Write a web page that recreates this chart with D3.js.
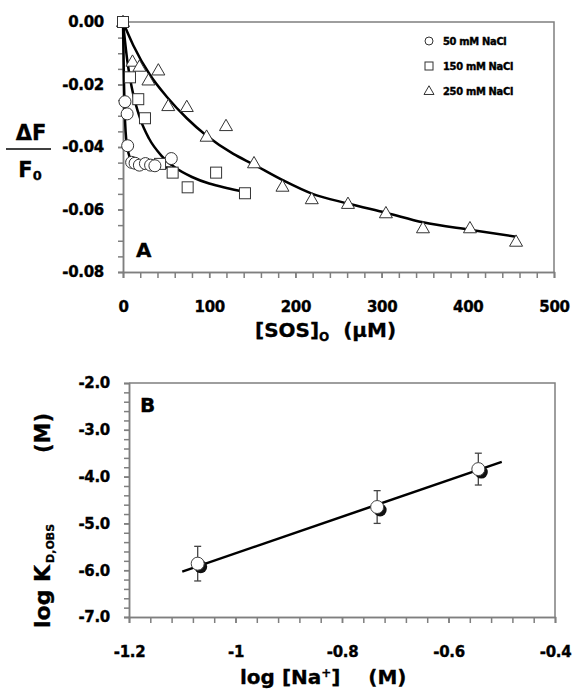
<!DOCTYPE html>
<html>
<head>
<meta charset="utf-8">
<script src="https://cdn.jsdelivr.net/npm/d3@7"></script>
<style>
  body { margin: 0; background: #fff; }
  svg { font-family: 'DejaVu Sans', Verdana, sans-serif; font-weight: bold; }
  .axis path, .axis line { stroke: #7f7f7f; stroke-width: 1.5; fill: none; }
  .axis text { fill: #000; font-size: 15px; font-family: 'DejaVu Sans', Verdana, sans-serif; font-weight: bold; stroke: #000; stroke-width: 0.35; letter-spacing: -0.3px; }
  .title { stroke: #000; stroke-width: 0.3; }
  .frame { stroke: #7f7f7f; stroke-width: 1.5; fill: none; }
  .fit { fill: none; stroke: #000; stroke-width: 2.5; }
  .sym { fill: #fff; stroke: #333; stroke-width: 1; }
  .legend text { font-size: 11px; font-stretch: condensed; stroke: #000; stroke-width: 0.4; letter-spacing: -0.3px; }
</style>
</head>
<body>
<div id="chart"></div>
<script>
// PANEL A DATA : [SOS]o (uM) vs dF/F0
const sos50 = [2.3, 4.8, 5.4, 10, 14, 19, 26, 32, 37, 56];
const dF50 = [-0.0255, -0.0294, -0.0396, -0.0449, -0.0452, -0.0458, -0.0453, -0.0458, -0.0460, -0.0437];
const sos150 = [0, 8.1, 17.7, 25.5, 43, 57.6, 75, 108, 141.5];
const dF150 = [0, -0.0177, -0.0247, -0.0308, -0.0454, -0.0482, -0.0529, -0.0482, -0.0548];
const sos250 = [0, 11, 19, 29.5, 41, 52.5, 74, 97, 119.5, 152, 185, 219, 261, 305, 348, 402.5, 456];
const dF250 = [0, -0.0127, -0.0143, -0.0187, -0.0155, -0.0269, -0.0272, -0.0367, -0.0333, -0.0452, -0.0527, -0.0567, -0.0582, -0.0612, -0.066, -0.066, -0.0703];

// fitted curves
const fit50x = [0, 1, 2, 3, 5, 8, 12, 20, 35, 56];
const fit50y = [0, -0.018, -0.029, -0.035, -0.040, -0.0435, -0.0450, -0.0458, -0.0463, -0.0466];
const fit150x = [0, 5, 10, 20, 30, 45, 60, 80, 100, 120, 141.5];
const fit150y = [0, -0.0124, -0.0207, -0.031, -0.0372, -0.0429, -0.0465, -0.0496, -0.0517, -0.0531, -0.0543];
const fit250x = [0, 12, 31, 51, 74, 97, 128, 151, 186, 219, 261, 306, 348, 402, 456];
const fit250y = [0, -0.0075, -0.0168, -0.0240, -0.0308, -0.0364, -0.0422, -0.0455, -0.0507, -0.0549, -0.0581, -0.0611, -0.0641, -0.0665, -0.0687];

const legendLabels = ['50 mM NaCl', '150 mM NaCl', '250 mM NaCl'];
const xTicksA = [0, 100, 200, 300, 400, 500];
const yTicksA = [0, -0.02, -0.04, -0.06, -0.08];

// PANEL B DATA : log [Na+] vs log Kd,obs
const logNa = [-1.071, -0.734, -0.544];
const logKd = [-5.86, -4.65, -3.84];
const logKdErr = [0.37, 0.35, 0.34];
const lineNa = [-1.10, -0.50];
const lineKd = [-6.03, -3.685];
const xTicksB = [-1.2, -1, -0.8, -0.6, -0.4];
const yTicksB = [-2, -3, -4, -5, -6, -7];

document.addEventListener('DOMContentLoaded', function(){
  drawChart();
});

// zip
// make [[x,y],...] out of two arrays
function zip(xs, ys) {
  return xs.map((x, i) => [x, ys[i]]);
}

// drawSymbol
// append a marker of a given shape
// args :
//  g : selection to draw in
//  shape : 'circle' | 'square' | 'triangle'
//  x, y : pixel position
//  s : size in px
function drawSymbol(g, shape, x, y, s) {
  if (shape === 'circle') {
    g.append('circle').attr('class', 'sym').attr('cx', x).attr('cy', y).attr('r', s / 2);
  } else if (shape === 'square') {
    g.append('rect').attr('class', 'sym').attr('x', x - s / 2).attr('y', y - s / 2).attr('width', s).attr('height', s);
  } else {
    let h = s * 0.87;
    g.append('path').attr('class', 'sym')
      .attr('d', 'M' + x + ' ' + (y - h * 0.6) + ' L' + (x + s / 2) + ' ' + (y + h * 0.4) + ' L' + (x - s / 2) + ' ' + (y + h * 0.4) + ' Z');
  }
}

function drawChart() {
  const width = 572;
  const height = 695;

  let svg = d3.select('#chart').append('svg')
    .attr('width', width)
    .attr('height', height);

  // ---------------- PANEL A ----------------
  let xA = d3.scaleLinear().domain([0, 500]).range([123, 554]);
  let yA = d3.scaleLinear().domain([-0.08, 0]).range([272, 22]);
  let gA = svg.append('g').classed('panel-a', true);

  // frame
  gA.append('path').attr('class', 'frame')
    .attr('d', 'M' + xA(0) + ' ' + yA(0) + ' H' + xA(500) + ' V' + yA(-0.08));

  // minor ticks
  gA.append('g').attr('class', 'axis').attr('transform', 'translate(0,' + yA(-0.08) + ')')
    .call(d3.axisBottom(xA).tickValues(d3.range(0, 501, 20)).tickSize(6).tickFormat(''));
  gA.append('g').attr('class', 'axis').attr('transform', 'translate(' + xA(0) + ',0)')
    .call(d3.axisLeft(yA).tickValues(d3.range(-0.08, 0.0001, 0.005)).tickSize(5).tickFormat(''));

  // labelled axes
  gA.append('g').attr('class', 'axis').attr('transform', 'translate(0,' + yA(-0.08) + ')')
    .call(d3.axisBottom(xA).tickValues(xTicksA).tickSize(6).tickSizeOuter(0).tickPadding(23));
  gA.append('g').attr('class', 'axis').attr('transform', 'translate(' + xA(0) + ',0)')
    .call(d3.axisLeft(yA).tickValues(yTicksA).tickSize(5).tickSizeOuter(0).tickPadding(14).tickFormat(d => d.toFixed(2)));

  // fit curves
  let lineA = d3.line().x(d => xA(d[0])).y(d => yA(d[1])).curve(d3.curveMonotoneX);
  gA.append('path').attr('class', 'fit').attr('d', lineA(zip(fit50x, fit50y)));
  gA.append('path').attr('class', 'fit').attr('d', lineA(zip(fit150x, fit150y)));
  gA.append('path').attr('class', 'fit').attr('d', lineA(zip(fit250x, fit250y)));

  // markers
  let marks = gA.append('g').classed('marks', true);
  zip(sos250, dF250).forEach(d => drawSymbol(marks, 'triangle', xA(d[0]), yA(d[1]), 13));
  zip(sos150, dF150).forEach(d => drawSymbol(marks, 'square', xA(d[0]), yA(d[1]), 11));
  zip(sos50, dF50).forEach(d => drawSymbol(marks, 'circle', xA(d[0]), yA(d[1]), 12));

  // legend
  let legend = gA.append('g').classed('legend', true);
  let shapes = ['circle', 'square', 'triangle'];
  legendLabels.forEach((label, i) => {
    let ly = 41 + i * 25;
    drawSymbol(legend, shapes[i], 429, ly, i === 2 ? 10 : 8);
    legend.append('text').attr('x', 443).attr('y', ly + 4).text(label);
  });

  // panel letter
  gA.append('text').attr('class', 'title').attr('x', 136).attr('y', 257).style('font-size', '20px').text('A');

  // y title : dF / F0
  gA.append('text').attr('class', 'title').attr('x', 31).attr('y', 140).attr('text-anchor', 'middle').style('font-size', '21px').text('\u0394F');
  gA.append('line').attr('x1', 6).attr('x2', 51).attr('y1', 149).attr('y2', 149).attr('stroke', '#000').attr('stroke-width', 1.5);
  let f0 = gA.append('text').attr('class', 'title').attr('x', 30).attr('y', 177).attr('text-anchor', 'middle').style('font-size', '21px');
  f0.append('tspan').text('F');
  f0.append('tspan').attr('dy', 3).style('font-size', '13px').text('0');

  // x title
  let xtA = gA.append('text').attr('class', 'title').attr('x', 255).attr('y', 337).style('font-size', '20px');
  xtA.append('tspan').text('[SOS]');
  xtA.append('tspan').attr('dy', 4).style('font-size', '12px').text('O');
  xtA.append('tspan').attr('dy', -4).text('\u00a0\u00a0(\u03bcM)');

  // ---------------- PANEL B ----------------
  let xB = d3.scaleLinear().domain([-1.2, -0.4]).range([129, 555]);
  let yB = d3.scaleLinear().domain([-7, -2]).range([617, 383]);
  let gB = svg.append('g').classed('panel-b', true);

  gB.append('path').attr('class', 'frame')
    .attr('d', 'M' + xB(-1.2) + ' ' + yB(-2) + ' H' + xB(-0.4) + ' V' + yB(-7));

  gB.append('g').attr('class', 'axis').attr('transform', 'translate(0,' + yB(-7) + ')')
    .call(d3.axisBottom(xB).tickValues(d3.range(-1.2, -0.3999, 0.04)).tickSize(6).tickFormat(''));
  gB.append('g').attr('class', 'axis').attr('transform', 'translate(' + xB(-1.2) + ',0)')
    .call(d3.axisLeft(yB).tickValues(d3.range(-7, -1.9999, 0.2)).tickSize(5).tickFormat(''));

  gB.append('g').attr('class', 'axis').attr('transform', 'translate(0,' + yB(-7) + ')')
    .call(d3.axisBottom(xB).tickValues(xTicksB).tickSize(6).tickSizeOuter(0).tickPadding(23).tickFormat(d => String(d)));
  gB.append('g').attr('class', 'axis').attr('transform', 'translate(' + xB(-1.2) + ',0)')
    .call(d3.axisLeft(yB).tickValues(yTicksB).tickSize(5).tickSizeOuter(0).tickPadding(14).tickFormat(d => d.toFixed(1)));

  // regression line
  gB.append('path').attr('class', 'fit').attr('stroke-width', 3)
    .attr('d', d3.line().x(d => xB(d[0])).y(d => yB(d[1]))(zip(lineNa, lineKd)));

  // error bars + points
  let pts = gB.append('g').classed('points', true);
  logNa.forEach((na, i) => {
    let px = xB(na);
    let top = yB(logKd[i] + logKdErr[i]);
    let bot = yB(logKd[i] - logKdErr[i]);
    pts.append('line').attr('x1', px).attr('x2', px).attr('y1', top).attr('y2', bot).attr('stroke', '#444').attr('stroke-width', 1.3);
    pts.append('line').attr('x1', px - 3.5).attr('x2', px + 3.5).attr('y1', top).attr('y2', top).attr('stroke', '#444').attr('stroke-width', 1.3);
    pts.append('line').attr('x1', px - 3.5).attr('x2', px + 3.5).attr('y1', bot).attr('y2', bot).attr('stroke', '#444').attr('stroke-width', 1.3);
    pts.append('circle').attr('cx', px + 3).attr('cy', yB(logKd[i]) + 3).attr('r', 6.5).attr('fill', '#111');
    pts.append('circle').attr('cx', px).attr('cy', yB(logKd[i])).attr('r', 6.5).attr('fill', '#fff').attr('stroke', '#444').attr('stroke-width', 1);
  });

  gB.append('text').attr('class', 'title').attr('x', 140).attr('y', 412).style('font-size', '20px').text('B');

  // y title : log Kd,obs ... (M)
  let ytB = gB.append('text').attr('class', 'title').attr('transform', 'translate(50,628) rotate(-90)').style('font-size', '22px');
  ytB.append('tspan').text('log K');
  ytB.append('tspan').attr('dy', 4).attr('dx', 2).style('font-size', '11px').text('D,OBS');
  gB.append('text').attr('class', 'title').attr('transform', 'translate(50,433) rotate(-90)').attr('text-anchor', 'middle').style('font-size', '21px').text('(M)');

  // x title
  let xtB = gB.append('text').attr('class', 'title').attr('x', 240).attr('y', 684).style('font-size', '20px');
  xtB.append('tspan').text('log [Na');
  xtB.append('tspan').attr('dy', -7).style('font-size', '12px').text('+');
  xtB.append('tspan').attr('dy', 7).text(']\u00a0\u00a0\u00a0 (M)');
}
</script>
</body>
</html>
